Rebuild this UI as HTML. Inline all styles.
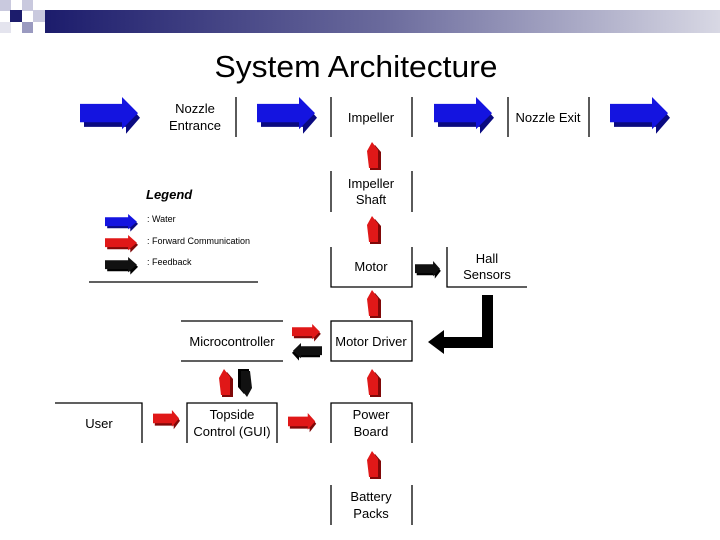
<!DOCTYPE html>
<html><head><meta charset="utf-8"><style>
html,body{margin:0;padding:0;background:#fff;width:720px;height:540px;overflow:hidden}
svg{display:block}
text{font-family:"Liberation Sans",sans-serif;fill:#000}
</style></head><body>
<svg width="720" height="540" viewBox="0 0 720 540" xmlns="http://www.w3.org/2000/svg">
<defs>
<linearGradient id="hb" x1="0" x2="1"><stop offset="0" stop-color="#1c1c6c"/><stop offset="0.5" stop-color="#6a6a9c"/><stop offset="1" stop-color="#d8d8e4"/></linearGradient>
<g id="ar">
<path d="M4 10 H44 V2 L60 18 L46 32 V26 H4 Z" fill="var(--d)"/>
<path d="M0 6 H42 V0 L58 14 L42 28 V22 H0 Z" fill="var(--c)"/>
</g>
<g id="up">
<path d="M4 10 L9 3 L15 10 V28 H4 Z" fill="var(--d)"/>
<path d="M1 9 L6 0 L12 8 V26 H3 Z" fill="var(--c)"/>
</g>
</defs>
<rect x="45" y="10" width="675" height="23" fill="url(#hb)"/>
<rect x="0" y="0" width="11" height="11" fill="#c9c9de"/>
<rect x="22" y="0" width="11" height="11" fill="#c9c9de"/>
<rect x="10" y="10" width="12" height="12" fill="#1c1c6c"/>
<rect x="33" y="10" width="12" height="12" fill="#c9c9de"/>
<rect x="22" y="22" width="11" height="11" fill="#9a9ac0"/>
<rect x="0" y="22" width="11" height="11" fill="#e4e4ee"/>
<text x="356" y="77" font-size="31" text-anchor="middle" textLength="283" lengthAdjust="spacingAndGlyphs">System Architecture</text>

<g style="--c:#1414e0;--d:#0a0a80">
<use href="#ar" transform="translate(80,97) scale(1,1.15)"/>
<use href="#ar" transform="translate(257,97) scale(1,1.15)"/>
<use href="#ar" transform="translate(434,97) scale(1,1.15)"/>
<use href="#ar" transform="translate(610,97) scale(1,1.15)"/>
<use href="#ar" transform="translate(105,214) scale(0.55,0.55)"/>
</g>
<g style="--c:#e01818;--d:#800808">
<use href="#ar" transform="translate(105,235) scale(0.55,0.55)"/>
<use href="#ar" transform="translate(292,324) scale(0.48,0.55)"/>
<use href="#ar" transform="translate(153,410) scale(0.45,0.6)"/>
<use href="#ar" transform="translate(288,413) scale(0.47,0.6)"/>
<use href="#up" transform="translate(366,142)"/>
<use href="#up" transform="translate(366,216)"/>
<use href="#up" transform="translate(366,290)"/>
<use href="#up" transform="translate(366,369)"/>
<use href="#up" transform="translate(366,451)"/>
<use href="#up" transform="translate(218,369)"/>
</g>
<g style="--c:#111;--d:#000">
<use href="#ar" transform="translate(105,257) scale(0.55,0.55)"/>
<use href="#ar" transform="translate(415,261) scale(0.43,0.55)"/>
<use href="#ar" transform="translate(322,343) scale(-0.5,0.55)"/>
<use href="#up" transform="translate(253,397) scale(-1,-1)"/>
</g>
<path d="M482 295 H493 V348 H444 V354 L428 342 L444 330 V337 H482 Z" fill="#000"/>

<g stroke="#000" stroke-width="1.3" fill="none">
<line x1="236" y1="97" x2="236" y2="137"/>
<line x1="331" y1="97" x2="331" y2="137"/><line x1="412" y1="97" x2="412" y2="137"/>
<line x1="508" y1="97" x2="508" y2="137"/><line x1="589" y1="97" x2="589" y2="137"/>
<line x1="331" y1="171" x2="331" y2="212"/><line x1="412" y1="171" x2="412" y2="212"/>
<path d="M331 247 V287 H412 V247"/>
<path d="M447 247 V287 H527"/>
<line x1="181" y1="321" x2="283" y2="321"/><line x1="181" y1="361" x2="283" y2="361"/>
<rect x="331" y="321" width="81" height="40"/>
<path d="M55 403 H142 V443"/>
<path d="M187 443 V403 H277 V443"/>
<path d="M331 443 V403 H412 V443"/>
<line x1="331" y1="485" x2="331" y2="525"/><line x1="412" y1="485" x2="412" y2="525"/>
<line x1="89" y1="282" x2="258" y2="282"/>
</g>

<g font-size="13" text-anchor="middle">
<text x="195" y="113">Nozzle</text><text x="195" y="130">Entrance</text>
<text x="371" y="122">Impeller</text>
<text x="548" y="122">Nozzle Exit</text>
<text x="371" y="188">Impeller</text><text x="371" y="204">Shaft</text>
<text x="371" y="271">Motor</text>
<text x="487" y="263">Hall</text><text x="487" y="279">Sensors</text>
<text x="232" y="346">Microcontroller</text>
<text x="371" y="346">Motor Driver</text>
<text x="99" y="428">User</text>
<text x="232" y="419">Topside</text><text x="232" y="436">Control (GUI)</text>
<text x="371" y="419">Power</text><text x="371" y="436">Board</text>
<text x="371" y="501">Battery</text><text x="371" y="518">Packs</text>
</g>
<text x="146" y="199" font-size="13" font-weight="bold" font-style="italic">Legend</text>
<g font-size="9">
<text x="147" y="222">: Water</text>
<text x="147" y="244">: Forward Communication</text>
<text x="147" y="265">: Feedback</text>
</g>
</svg>
</body></html>
